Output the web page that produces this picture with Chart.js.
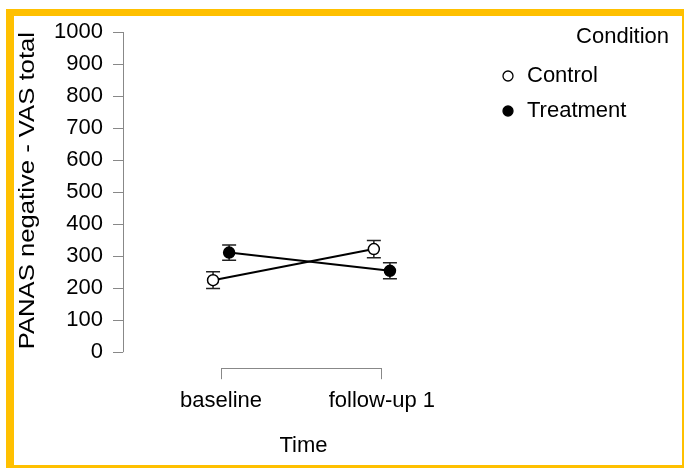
<!DOCTYPE html>
<html>
<head>
<meta charset="utf-8">
<script src="https://cdn.jsdelivr.net/npm/chart.js@4.4.1/dist/chart.umd.min.js"></script>
<style>
  html, body { margin: 0; padding: 0; background: #fff; }
  #wrap { position: relative; width: 684px; height: 468px; }
  #frame {
    position: absolute; left: 6px; top: 9px; width: 678px; height: 459px;
    box-sizing: border-box; border-style: solid; border-color: #ffc000;
    border-width: 7px 2px 3px 8px; pointer-events: none;
  }
</style>
</head>
<body>
<div id="wrap">
  <canvas id="myChart" width="684" height="468"></canvas>
  <div id="frame"></div>
</div>
<script>
// values
const timePoints = ["baseline", "follow-up 1"];
const conditions = ["Control", "Treatment"];
const controlMean = [225, 322];
const controlErr = [26, 27];
const treatmentMean = [311, 254];
const treatmentErr = [24, 25];
const yTicks = [0, 100, 200, 300, 400, 500, 600, 700, 800, 900, 1000];
const yTitle = "PANAS negative - VAS total";

const dodge = 0.05; // horizontal dodge of the two conditions (x units)
const fontFamily = "'Liberation Sans', Arial, sans-serif";

Chart.defaults.font.family = fontFamily;
Chart.defaults.font.size = 22;
Chart.defaults.color = "#000";

// error bars drawn under the points
const errorBars = {
  id: "errorBars",
  beforeDatasetsDraw(chart) {
    const { ctx, scales } = chart;
    ctx.save();
    ctx.strokeStyle = "#222";
    ctx.lineWidth = 1.5;
    chart.data.datasets.forEach((ds) => {
      ds.data.forEach((p, i) => {
        const x = scales.x.getPixelForValue(p.x);
        const top = scales.y.getPixelForValue(p.y + ds.err[i]);
        const bot = scales.y.getPixelForValue(p.y - ds.err[i]);
        ctx.beginPath();
        ctx.moveTo(x, top);
        ctx.lineTo(x, bot);
        ctx.moveTo(x - 7, top);
        ctx.lineTo(x + 7, top);
        ctx.moveTo(x - 7, bot);
        ctx.lineTo(x + 7, bot);
        ctx.stroke();
      });
    });
    ctx.restore();
  },
};

// R style axis lines: only over the tick range, plus the wide y title
const rangeAxes = {
  id: "rangeAxes",
  beforeDatasetsDraw(chart) {
    const { ctx, chartArea, scales } = chart;
    ctx.save();
    ctx.strokeStyle = "#888";
    ctx.lineWidth = 1;
    const x0 = Math.round(chartArea.left) + 0.5;
    ctx.beginPath();
    ctx.moveTo(x0, scales.y.getPixelForValue(yTicks[0]));
    ctx.lineTo(x0, scales.y.getPixelForValue(yTicks[yTicks.length - 1]));
    const yb = Math.round(chartArea.bottom) + 0.5;
    ctx.moveTo(scales.x.getPixelForValue(0), yb);
    ctx.lineTo(scales.x.getPixelForValue(timePoints.length - 1), yb);
    ctx.stroke();

    // y title, stretched along its length like the original
    ctx.translate(27.5, scales.y.getPixelForValue(yTicks[yTicks.length - 1]));
    ctx.rotate(-Math.PI / 2);
    ctx.scale(1.167, 1);
    ctx.font = "22px " + fontFamily;
    ctx.fillStyle = "#000";
    ctx.textAlign = "right";
    ctx.textBaseline = "middle";
    ctx.fillText(yTitle, 0, 0);
    ctx.restore();
  },
};

// legend in the top right corner, like the original
const cornerLegend = {
  id: "cornerLegend",
  afterDraw(chart) {
    const ctx = chart.ctx;
    ctx.save();
    ctx.font = "22px " + fontFamily;
    ctx.fillStyle = "#000";
    ctx.textBaseline = "middle";
    ctx.textAlign = "right";
    ctx.fillText("Condition", 669, 37);
    ctx.textAlign = "left";
    chart.data.datasets.forEach((ds, i) => {
      const y = 76 + i * 35;
      ctx.beginPath();
      ctx.arc(508, y, 5, 0, Math.PI * 2);
      ctx.fillStyle = ds.pointBackgroundColor;
      ctx.fill();
      ctx.lineWidth = 1.3;
      ctx.strokeStyle = "#000";
      ctx.stroke();
      ctx.fillStyle = "#000";
      ctx.fillText(ds.label, 527, y);
    });
    ctx.restore();
  },
};

const ctx = document.getElementById("myChart");

new Chart(ctx, {
  type: "scatter",
  data: {
    datasets: [
      {
        label: conditions[0],
        data: controlMean.map((v, i) => ({ x: i - dodge, y: v })),
        err: controlErr,
        showLine: true,
        borderColor: "#000",
        borderWidth: 2,
        pointRadius: 5.5,
        pointBorderWidth: 1.5,
        pointBorderColor: "#000",
        pointBackgroundColor: "#fff",
      },
      {
        label: conditions[1],
        data: treatmentMean.map((v, i) => ({ x: i + dodge, y: v })),
        err: treatmentErr,
        showLine: true,
        borderColor: "#000",
        borderWidth: 2,
        pointRadius: 5.5,
        pointBorderWidth: 1.5,
        pointBorderColor: "#000",
        pointBackgroundColor: "#000",
      },
    ],
  },
  options: {
    responsive: false,
    animation: false,
    layout: { padding: { left: 0, top: 32, right: 200, bottom: 2 } },
    plugins: {
      legend: { display: false },
      tooltip: { enabled: false },
    },
    scales: {
      x: {
        type: "linear",
        min: -0.61,
        max: 1.635,
        afterBuildTicks: (scale) => {
          scale.ticks = timePoints.map((t, i) => ({ value: i }));
        },
        ticks: {
          padding: 9,
          callback: (value) => timePoints[value],
        },
        grid: { drawOnChartArea: false, tickLength: 11, color: "#888" },
        border: { display: false },
        title: { display: true, text: "Time", padding: { top: 9, bottom: 7 } },
      },
      y: {
        min: -50,
        max: 1000,
        afterBuildTicks: (scale) => {
          scale.ticks = yTicks.map((v) => ({ value: v }));
        },
        afterFit: (scale) => {
          scale.width = 123;
        },
        ticks: { padding: 10, autoSkip: false, callback: (value) => String(value) },
        grid: { drawOnChartArea: false, tickLength: 10, color: "#888" },
        border: { display: false },
      },
    },
  },
  plugins: [errorBars, rangeAxes, cornerLegend],
});
</script>
</body>
</html>
